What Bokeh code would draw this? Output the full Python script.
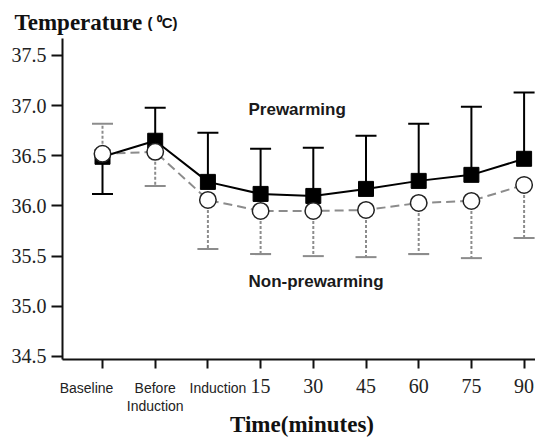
from bokeh.plotting import figure
from bokeh.models import Range1d, FixedTicker, Label, ColumnDataSource, PrintfTickFormatter, LinearAxis
from bokeh.embed import file_html
from bokeh.resources import INLINE

# ---- data ----
categories = ["Baseline", "Before\nInduction", "Induction", "15", "30", "45", "60", "75", "90"]
pre_mean = [36.49, 36.65, 36.24, 36.12, 36.10, 36.17, 36.25, 36.31, 36.47]
pre_sd = [0.37, 0.33, 0.49, 0.45, 0.48, 0.53, 0.57, 0.68, 0.66]
non_mean = [36.52, 36.54, 36.06, 35.95, 35.95, 35.96, 36.03, 36.05, 36.21]
non_sd = [0.30, 0.34, 0.49, 0.43, 0.45, 0.47, 0.51, 0.57, 0.53]
y_ticks = [34.5, 35.0, 35.5, 36.0, 36.5, 37.0, 37.5]
series_names = ["Prewarming", "Non-prewarming"]

x = list(range(len(categories)))
# one-sided SD bars: each group's bar points away from the other group
pre_end = [m + s if m >= n else m - s for m, n, s in zip(pre_mean, non_mean, pre_sd)]
non_end = [n - s if m >= n else n + s for m, n, s in zip(pre_mean, non_mean, non_sd)]

src = ColumnDataSource(dict(x=x, pre=pre_mean, non=non_mean, pre_end=pre_end, non_end=non_end))

# full-canvas ranges; axes drawn at fixed locations with limited bounds
X0, X1 = -1.9355, 8.2163
Y0, Y1 = 33.682, 38.048
AX_X0, AX_X1 = -0.759, 8.2163
AX_Y0, AX_Y1 = 34.47, 37.67

p = figure(width=535, height=438, output_backend="svg", toolbar_location=None,
           x_range=Range1d(X0, X1), y_range=Range1d(Y0, Y1),
           min_border=0, title=None, x_axis_location=None, y_axis_location=None)
p.xgrid.visible = False
p.ygrid.visible = False
p.outline_line_color = None
p.background_fill_color = "white"

xaxis = LinearAxis(fixed_location=AX_Y0, bounds=(AX_X0, AX_X1))
yaxis = LinearAxis(fixed_location=AX_X0, bounds=(AX_Y0, AX_Y1))
p.add_layout(xaxis, "below")
p.add_layout(yaxis, "left")

for ax in (xaxis, yaxis):
    ax.axis_line_width = 2
    ax.axis_line_color = "#111"
    ax.major_tick_line_width = 2
    ax.major_tick_line_color = "#111"
    ax.major_tick_in = 0
    ax.minor_tick_line_color = None
    ax.major_label_text_font = "Liberation Serif"
    ax.major_label_text_font_size = "20px"
    ax.major_label_text_color = "#222"

yaxis.ticker = FixedTicker(ticks=y_ticks)
yaxis.formatter = PrintfTickFormatter(format="%.1f")
yaxis.major_tick_out = 11
yaxis.major_label_standoff = 5

xaxis.ticker = FixedTicker(ticks=x)
xaxis.major_tick_out = 9
xaxis.major_label_standoff = 11
xaxis.major_label_overrides = {i: (c if c.isdigit() else "") for i, c in zip(x, categories)}

# word category labels (sans-serif, possibly two lines)
cat_offsets = {0: -16, 1: 0, 2: 10}
for i, c in zip(x, categories):
    if c.isdigit():
        continue
    for k, line in enumerate(c.split("\n")):
        p.add_layout(Label(x=i, y=AX_Y0, x_offset=cat_offsets.get(i, 0), y_offset=-29 - 18 * k,
                           text=line, text_align="center", text_baseline="middle",
                           text_font="Liberation Sans", text_font_size="14px", text_color="#222"))

# error bars
grey = "#8c8c8c"
p.segment(x0="x", y0="non", x1="x", y1="non_end", source=src, line_color=grey,
          line_width=2, line_dash="3 2")
p.scatter(x="x", y="non_end", source=src, marker="dash", size=21, line_color=grey, line_width=2)
p.segment(x0="x", y0="pre", x1="x", y1="pre_end", source=src, line_color="black", line_width=2)
p.scatter(x="x", y="pre_end", source=src, marker="dash", size=21, line_color="black", line_width=2)

# lines
p.line(x="x", y="non", source=src, line_color=grey, line_width=2, line_dash="9 5")
p.line(x="x", y="pre", source=src, line_color="black", line_width=2)

# markers
p.scatter(x="x", y="pre", source=src, marker="square", size=15, fill_color="black", line_color="black")
p.scatter(x="x", y="non", source=src, marker="circle", size=16.5, fill_color="white",
          line_color="#222", line_width=1.5)

# series labels
p.add_layout(Label(x=2.77, y=36.91, y_offset=5, text=series_names[0], text_baseline="alphabetic",
                   text_font="Liberation Sans", text_font_style="bold", text_font_size="17px",
                   text_color="#1a1a1a"))
p.add_layout(Label(x=2.77, y=35.19, y_offset=6, text=series_names[1], text_baseline="alphabetic",
                   text_font="Liberation Sans", text_font_style="bold", text_font_size="17px",
                   text_color="#1a1a1a"))

# axis titles
p.add_layout(Label(x=-1.67, y=37.779, y_offset=5, text="Temperature", text_baseline="alphabetic",
                   text_font="Liberation Serif", text_font_style="bold", text_font_size="23px",
                   text_color="#111"))
p.add_layout(Label(x=0.854, y=37.779, y_offset=5, text="( \u2070C)", text_baseline="alphabetic",
                   text_font="Liberation Sans", text_font_style="bold", text_font_size="15px",
                   text_color="#111"))
p.add_layout(Label(x=3.786, y=33.752, y_offset=7, text="Time(minutes)", text_align="center",
                   text_baseline="alphabetic", text_font="Liberation Serif",
                   text_font_style="bold", text_font_size="23px", text_color="#111"))

open("out.html", "w").write(file_html(p, INLINE))
